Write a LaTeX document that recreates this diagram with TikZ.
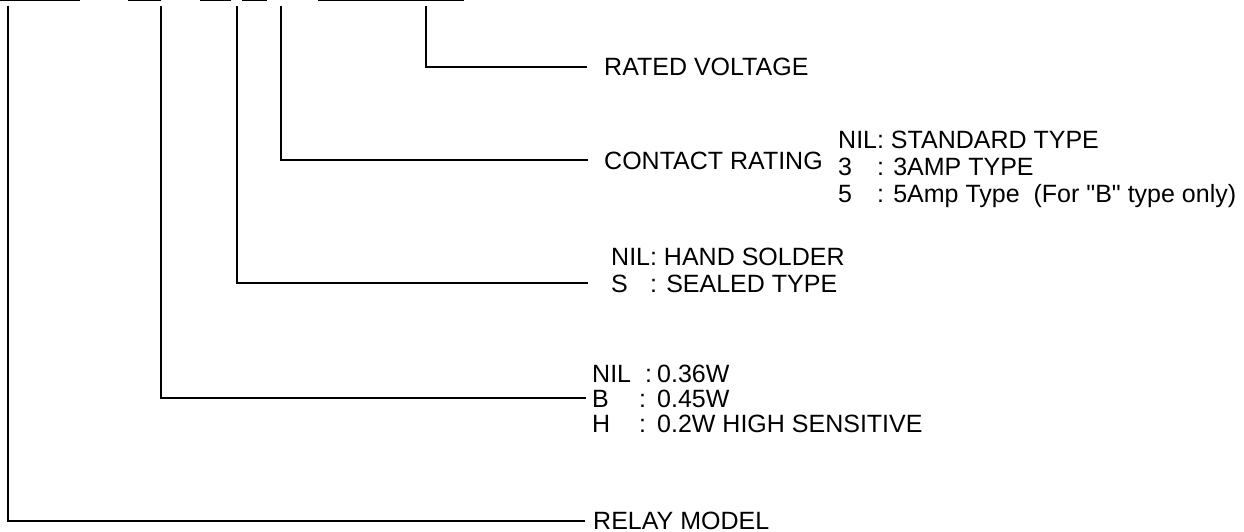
\documentclass[tikz,border=0pt]{standalone}
\usepackage{fontspec}
\setmainfont{Liberation Sans}[Ligatures=TeXOff]
\usepackage{calc}
\begin{document}
\begin{tikzpicture}[x=1pt,y=-1pt,
  wire/.style={line width=2pt,black},
  lbl/.style={anchor=base west,inner sep=0pt,font=\fontsize{25}{28}\selectfont}]
\useasboundingbox (0,0) rectangle (1244,532);
% top bars (cropped code segments)
\draw[wire] (0,0) -- (80,0);
\draw[wire] (128,0) -- (161,0);
\draw[wire] (200,0) -- (231,0);
\draw[wire] (242,0) -- (267,0);
\draw[wire] (318,0) -- (464,0);
% top ends of the leader lines
\coordinate (tModel) at (8,6);
\coordinate (tPower) at (161,6);
\coordinate (tSeal) at (237,6);
\coordinate (tContact) at (281,6);
\coordinate (tVolt) at (426,6);
% line ends near the labels
\coordinate (eVolt) at (587,67);
\coordinate (eContact) at (588,160);
\coordinate (eSeal) at (588,283);
\coordinate (ePower) at (586,398);
\coordinate (eModel) at (585,521);
% labels
\node[lbl] (volt) at (604,75.5) {RATED VOLTAGE};
\node[lbl] (contact) at (604,169.5) {CONTACT RATING};
\node[lbl] (c1) at (838,148.5) {NIL: STANDARD TYPE};
\node[lbl] (c2) at (838,175.5) {\makebox[\widthof{NIL}][l]{3}: 3AMP TYPE};
\node[lbl] (c3) at (838,202.5) {\makebox[\widthof{NIL}][l]{5}: 5Amp Type\ \ (For "B" type only)};
\node[lbl] (s1) at (611,265) {NIL: HAND SOLDER};
\node[lbl] (s2) at (611,292) {\makebox[\widthof{NIL}][l]{S}: SEALED TYPE};
\node[lbl] (p1) at (592,382) {\makebox[53pt][l]{NIL}\makebox[12pt][l]{:}0.36W};
\node[lbl] (p2) at (592,407) {\makebox[47pt][l]{B}\makebox[18pt][l]{:}0.45W};
\node[lbl] (p3) at (592,432) {\makebox[47pt][l]{H}\makebox[18pt][l]{:}0.2W HIGH SENSITIVE};
\node[lbl] (model) at (593,529) {RELAY MODEL};
% connectors
\draw[wire] (tVolt) |- (eVolt);
\draw[wire] (tContact) |- (eContact);
\draw[wire] (tSeal) |- (eSeal);
\draw[wire] (tPower) |- (ePower);
\draw[wire] (tModel) |- (eModel);
\end{tikzpicture}
\end{document}
